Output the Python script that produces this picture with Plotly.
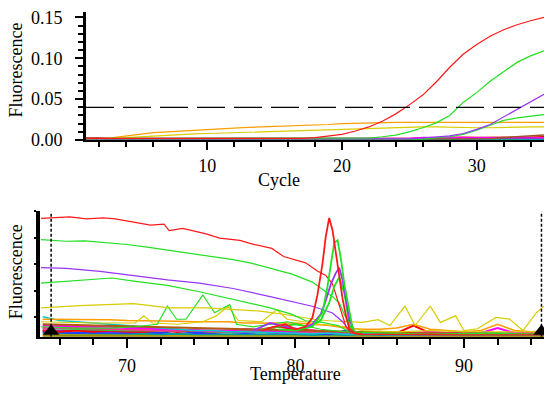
import plotly.graph_objects as go

# ---------------- Amplification (top) ----------------
cycles = [1, 2, 3, 4, 5, 6, 7, 8, 9, 10, 11, 12, 13, 14, 15, 16, 17, 18, 19, 20,
          21, 22, 23, 24, 25, 26, 27, 28, 29, 30, 31, 32, 33, 34, 35]
threshold = 0.040

amp_red = [0.002, 0.002, 0.002, 0.002, 0.002, 0.002, 0.002, 0.002, 0.002, 0.002, 0.002, 0.002,
           0.002, 0.002, 0.002, 0.002, 0.002, 0.003, 0.005, 0.007, 0.011, 0.016, 0.023, 0.032,
           0.043, 0.055, 0.071, 0.089, 0.105, 0.117, 0.127, 0.135, 0.141, 0.146, 0.150]
amp_green = [0.002, 0.002, 0.002, 0.002, 0.002, 0.002, 0.002, 0.002, 0.002, 0.002, 0.002, 0.002,
             0.002, 0.002, 0.002, 0.002, 0.002, 0.002, 0.002, 0.002, 0.002, 0.0025, 0.004, 0.006,
             0.010, 0.015, 0.021, 0.030, 0.046, 0.058, 0.072, 0.084, 0.095, 0.103, 0.109]
amp_purple = [0.0015, 0.0015, 0.0015, 0.0015, 0.0015, 0.0015, 0.0015, 0.0015, 0.0015, 0.0015,
              0.0015, 0.0015, 0.0015, 0.0015, 0.0015, 0.0015, 0.0015, 0.0015, 0.0015, 0.0015,
              0.0015, 0.0015, 0.0015, 0.0015, 0.0015, 0.0025, 0.004, 0.005, 0.008, 0.013,
              0.019, 0.028, 0.037, 0.047, 0.056]
amp_green2 = [0.001, 0.001, 0.001, 0.001, 0.001, 0.001, 0.001, 0.001, 0.001, 0.001, 0.001, 0.001,
              0.001, 0.001, 0.001, 0.001, 0.001, 0.001, 0.001, 0.001, 0.001, 0.001, 0.001, 0.001,
              0.001, 0.001, 0.003, 0.004, 0.007, 0.012, 0.018, 0.024, 0.027, 0.029, 0.031]
amp_orange = [0.0005, 0.001, 0.003, 0.005, 0.007, 0.009, 0.010, 0.011, 0.012, 0.013, 0.014, 0.015,
              0.0155, 0.016, 0.0165, 0.017, 0.018, 0.0185, 0.019, 0.020, 0.0205, 0.021, 0.0215,
              0.0215, 0.0215, 0.0215, 0.0215, 0.0215, 0.0215, 0.0215, 0.0215, 0.0215, 0.0215,
              0.0215, 0.0215]
amp_yellow = [0.0005, 0.001, 0.002, 0.003, 0.004, 0.005, 0.006, 0.007, 0.0075, 0.008, 0.0085,
              0.009, 0.0095, 0.010, 0.0105, 0.011, 0.0115, 0.012, 0.0125, 0.013, 0.014, 0.0145,
              0.015, 0.015, 0.0155, 0.016, 0.016, 0.0155, 0.015, 0.015, 0.015, 0.0155, 0.016,
              0.016, 0.016]
amp_brown = [0.001, 0.001, 0.001, 0.001, 0.001, 0.001, 0.001, 0.001, 0.001, 0.001, 0.001, 0.001,
             0.001, 0.001, 0.001, 0.001, 0.001, 0.001, 0.001, 0.001, 0.001, 0.001, 0.001, 0.001,
             0.001, 0.001, 0.001, 0.001, 0.001, 0.001, 0.0015, 0.003, 0.004, 0.005, 0.006]
amp_magenta = [0.002, 0.002, 0.002, 0.002, 0.002, 0.002, 0.002, 0.002, 0.002, 0.002, 0.002, 0.002,
               0.002, 0.002, 0.002, 0.002, 0.002, 0.002, 0.002, 0.002, 0.002, 0.002, 0.002, 0.002,
               0.002, 0.003, 0.003, 0.003, 0.003, 0.003, 0.003, 0.0025, 0.0025, 0.0025, 0.0025]
amp_cyan = [0.0005, 0.0005, 0.0005, 0.0005, 0.0005, 0.0005, 0.0005, 0.0005, 0.0005, 0.0005,
            0.0005, 0.0005, 0.0005, 0.0005, 0.0005, 0.0005, 0.0005, 0.0005, 0.0005, 0.0005,
            0.0005, 0.0005, 0.0005, 0.0005, 0.0005, 0.001, 0.001, 0.001, 0.0005, 0.001, 0.001,
            0.0015, 0.001, 0.001, 0.001]
amp_redbase = [0.0025, 0.0025, 0.0015, 0.0015, 0.0015, 0.0015, 0.0015, 0.0015, 0.0015, 0.0015,
               0.0015, 0.0015, 0.0015, 0.0015, 0.0015, 0.0015, 0.0015, 0.0015, 0.0015, 0.0015,
               0.0015, 0.0015, 0.0015, 0.002, 0.002, 0.0025, 0.003, 0.003, 0.0035, 0.003, 0.003,
               0.0035, 0.003, 0.0035, 0.004]
amp_olive = [0.0002, 0.0002, 0.0002, 0.0002, 0.0002, 0.0002, 0.0002, 0.0002, 0.0002, 0.0002,
             0.0002, 0.0002, 0.0002, 0.0002, 0.0002, 0.0002, 0.0002, 0.0002, 0.0002, 0.0002,
             0.0002, 0.0002, 0.0002, 0.0002, 0.0002, 0.0005, 0.0005, 0.0005, 0.0005, 0.0005,
             0.0005, 0.0005, 0.0005, 0.0005, 0.0005]
amp_teal = [0.001, 0.001, 0.001, 0.001, 0.001, 0.001, 0.001, 0.001, 0.001, 0.001, 0.001, 0.001,
            0.001, 0.001, 0.001, 0.001, 0.001, 0.001, 0.001, 0.001, 0.001, 0.001, 0.001, 0.001,
            0.001, 0.0015, 0.0015, 0.0015, 0.0015, 0.002, 0.002, 0.002, 0.002, 0.0015, 0.0015]

# ---------------- Melt (bottom) ----------------
melt_limits = [65.5, 94.6]

raw_red_t = [64.9, 66.0, 66.6, 67.6, 68.6, 69.3, 70.0, 70.7, 71.4, 72.2, 72.5, 73.3, 74.0, 74.7,
             75.5, 76.7, 77.3, 78.1, 78.6, 79.3, 80.0, 80.6, 81.3, 81.8, 82.2, 82.6, 83.0, 83.3,
             84.0, 86.0, 88.0, 90.0, 92.0, 94.7]
raw_red_v = [0.944, 0.950, 0.956, 0.941, 0.949, 0.940, 0.923, 0.905, 0.890, 0.898, 0.846, 0.864,
             0.845, 0.821, 0.787, 0.769, 0.745, 0.718, 0.705, 0.640, 0.615, 0.590, 0.525, 0.490,
             0.420, 0.250, 0.080, 0.030, 0.020, 0.020, 0.015, 0.015, 0.015, 0.015]
peak_red_t = [78.0, 78.7, 79.4, 80.0, 80.6, 81.0, 81.3, 81.6, 81.8, 82.0, 82.2, 82.5, 82.8, 83.0,
              83.2, 83.5, 84.0]
peak_red_v = [0.05, 0.08, 0.10, 0.06, 0.08, 0.15, 0.33, 0.58, 0.80, 0.948, 0.85, 0.56, 0.30,
              0.167, 0.064, 0.03, 0.02]

raw_green_t = [64.9, 66.4, 67.5, 68.4, 70.0, 71.2, 72.4, 73.4, 74.3, 75.3, 76.3, 77.3, 78.5,
               79.8, 81.0, 81.4, 81.8, 82.2, 82.6, 83.0, 83.3, 84.0, 87.0, 90.0, 94.7]
raw_green_v = [0.775, 0.762, 0.765, 0.756, 0.736, 0.715, 0.692, 0.672, 0.654, 0.635, 0.615, 0.590,
               0.546, 0.500, 0.436, 0.400, 0.360, 0.320, 0.270, 0.150, 0.040, 0.020, 0.018,
               0.015, 0.015]
peak_green_t = [79.0, 80.0, 81.0, 81.6, 81.9, 82.1, 82.3, 82.5, 82.7, 82.9, 83.2, 83.4, 83.7]
peak_green_v = [0.06, 0.05, 0.08, 0.19, 0.40, 0.56, 0.75, 0.77, 0.62, 0.42, 0.19, 0.06, 0.02]

raw_purple_t = [64.9, 66.4, 68.4, 70.4, 72.4, 74.3, 76.3, 78.5, 79.8, 81.0, 81.6, 82.2, 82.8,
                83.2, 83.6, 87.0, 94.7]
raw_purple_v = [0.551, 0.546, 0.521, 0.487, 0.454, 0.428, 0.385, 0.321, 0.282, 0.244, 0.218,
                0.190, 0.120, 0.050, 0.020, 0.015, 0.015]
peak_purple_t = [77.5, 78.5, 79.5, 80.3, 81.0, 81.5, 81.8, 82.1, 82.4, 82.6, 82.8, 83.0, 83.2,
                 83.5]
peak_purple_v = [0.05, 0.11, 0.08, 0.06, 0.10, 0.18, 0.29, 0.42, 0.51, 0.55, 0.45, 0.28, 0.14,
                 0.04]

raw_green2_t = [64.9, 66.4, 67.9, 69.1, 70.4, 72.4, 74.3, 76.3, 78.5, 79.8, 80.6, 81.6, 82.5,
                83.2, 83.6, 88.0, 94.7]
raw_green2_v = [0.428, 0.444, 0.462, 0.469, 0.444, 0.410, 0.359, 0.300, 0.231, 0.179, 0.128,
                0.115, 0.090, 0.040, 0.020, 0.015, 0.015]
peak_green2_t = [78.0, 79.0, 80.0, 80.8, 81.5, 82.0, 82.3, 82.6, 82.9, 83.2, 83.5]
peak_green2_v = [0.06, 0.08, 0.10, 0.08, 0.13, 0.27, 0.40, 0.475, 0.35, 0.10, 0.03]

yellow_t = [64.9, 67.2, 70.4, 72.5, 74.7, 76.1, 77.9, 79.3, 81.1, 82.0, 83.0, 84.0, 84.9, 85.6,
            86.5, 87.1, 88.0, 88.6, 89.5, 90.0, 90.8, 91.9, 92.7, 93.5, 94.3, 94.75]
yellow_v = [0.230, 0.248, 0.264, 0.230, 0.230, 0.218, 0.205, 0.180, 0.140, 0.128, 0.120, 0.115,
            0.136, 0.090, 0.244, 0.090, 0.244, 0.115, 0.167, 0.050, 0.064, 0.154, 0.141, 0.050,
            0.192, 0.244]

spiky_green_t = [64.9, 67.0, 69.0, 70.5, 71.8, 72.4, 72.95, 73.5, 74.5, 75.2, 76.1, 76.5, 77.5,
                 78.5, 79.5, 80.5, 81.5, 83.0, 85.0, 88.0, 91.0, 94.7]
spiky_green_v = [0.08, 0.07, 0.07, 0.08, 0.10, 0.244, 0.14, 0.14, 0.333, 0.192, 0.256, 0.10,
                 0.08, 0.10, 0.12, 0.09, 0.06, 0.04, 0.03, 0.02, 0.03, 0.02]

spiky_yellow_t = [64.9, 68.0, 70.5, 71.0, 71.5, 73.0, 74.5, 75.3, 76.0, 76.6, 78.0, 78.9, 79.5,
                  80.5, 81.5, 83.0, 84.0, 86.0, 88.0, 91.0, 94.7]
spiky_yellow_v = [0.12, 0.11, 0.11, 0.167, 0.11, 0.10, 0.12, 0.167, 0.244, 0.13, 0.12, 0.218,
                  0.14, 0.12, 0.10, 0.08, 0.05, 0.04, 0.05, 0.04, 0.04]

noise_t = [65, 66, 67, 68, 69, 70, 71, 72, 73, 74, 75, 76, 77, 78, 79, 80, 81, 82, 83, 84, 85,
           86, 87, 88, 89, 90, 91, 92, 93, 94, 95]
noise_red = [0.05, 0.04, 0.05, 0.04, 0.05, 0.04, 0.04, 0.05, 0.04, 0.05, 0.04, 0.04, 0.05, 0.06,
             0.08, 0.06, 0.05, 0.04, 0.03, 0.03, 0.02, 0.03, 0.09, 0.03, 0.02, 0.02, 0.03, 0.02,
             0.02, 0.02, 0.02]
noise_magenta = [0.09, 0.09, 0.085, 0.08, 0.08, 0.07, 0.07, 0.06, 0.06, 0.05, 0.05, 0.05, 0.06,
                 0.05, 0.04, 0.04, 0.05, 0.04, 0.03, 0.03, 0.04, 0.03, 0.03, 0.04, 0.03, 0.03,
                 0.03, 0.07, 0.03, 0.03, 0.03]
noise_blue = [0.04, 0.035, 0.03, 0.035, 0.03, 0.03, 0.04, 0.03, 0.05, 0.03, 0.03, 0.04, 0.03,
              0.04, 0.03, 0.03, 0.03, 0.02, 0.05, 0.03, 0.02, 0.03, 0.02, 0.02, 0.03, 0.02, 0.02,
              0.03, 0.02, 0.02, 0.02]
noise_cyan = [0.16, 0.13, 0.12, 0.11, 0.10, 0.09, 0.08, 0.07, 0.06, 0.05, 0.05, 0.04, 0.04, 0.035,
              0.03, 0.03, 0.025, 0.03, 0.02, 0.025, 0.02, 0.03, 0.02, 0.02, 0.025, 0.02, 0.02,
              0.02, 0.02, 0.015, 0.02]
noise_green = [0.07, 0.065, 0.06, 0.06, 0.055, 0.05, 0.05, 0.05, 0.045, 0.05, 0.04, 0.04, 0.05,
               0.04, 0.04, 0.035, 0.03, 0.04, 0.03, 0.03, 0.025, 0.03, 0.025, 0.03, 0.025, 0.02,
               0.02, 0.03, 0.02, 0.03, 0.02]
noise_orange = [0.14, 0.14, 0.135, 0.14, 0.135, 0.13, 0.13, 0.13, 0.125, 0.12, 0.12, 0.12, 0.11,
                0.11, 0.115, 0.11, 0.10, 0.09, 0.07, 0.06, 0.06, 0.07, 0.10, 0.06, 0.05, 0.04,
                0.05, 0.10, 0.05, 0.04, 0.05]
noise_brown = [0.10, 0.10, 0.095, 0.09, 0.09, 0.085, 0.08, 0.08, 0.075, 0.07, 0.07, 0.065, 0.06,
               0.06, 0.055, 0.05, 0.05, 0.045, 0.04, 0.04, 0.035, 0.035, 0.03, 0.03, 0.03, 0.025,
               0.025, 0.025, 0.02, 0.02, 0.02]
noise_olive = [0.02, 0.02, 0.015, 0.02, 0.015, 0.015, 0.02, 0.015, 0.015, 0.01, 0.015, 0.01,
               0.015, 0.01, 0.01, 0.015, 0.01, 0.01, 0.01, 0.01, 0.01, 0.01, 0.01, 0.01, 0.01,
               0.01, 0.01, 0.01, 0.01, 0.01, 0.01]
noise_purple = [0.05, 0.05, 0.045, 0.05, 0.04, 0.045, 0.04, 0.06, 0.04, 0.05, 0.04, 0.04, 0.06,
                0.05, 0.03, 0.04, 0.03, 0.03, 0.04, 0.03, 0.03, 0.03, 0.02, 0.03, 0.02, 0.02,
                0.03, 0.02, 0.03, 0.02, 0.02]
noise_teal = [0.03, 0.03, 0.03, 0.025, 0.03, 0.025, 0.025, 0.02, 0.025, 0.02, 0.02, 0.025, 0.02,
              0.02, 0.02, 0.02, 0.015, 0.02, 0.015, 0.02, 0.015, 0.015, 0.02, 0.015, 0.015,
              0.015, 0.015, 0.02, 0.015, 0.015, 0.015]
noise_pink = [0.07, 0.075, 0.07, 0.065, 0.06, 0.06, 0.055, 0.05, 0.05, 0.055, 0.045, 0.04, 0.04,
              0.04, 0.035, 0.035, 0.03, 0.03, 0.03, 0.025, 0.025, 0.025, 0.025, 0.02, 0.02, 0.02,
              0.02, 0.02, 0.02, 0.02, 0.02]
noise_dark = [0.006, 0.006, 0.005, 0.006, 0.005, 0.005, 0.006, 0.005, 0.005, 0.005, 0.005, 0.005,
              0.005, 0.005, 0.005, 0.005, 0.005, 0.005, 0.005, 0.005, 0.005, 0.005, 0.005, 0.005,
              0.005, 0.005, 0.005, 0.005, 0.005, 0.005, 0.005]

RED, GREEN, PURPLE = "#ff1a1a", "#22e022", "#9933ff"
ORANGE, YELLOW = "#ff9d00", "#d9cc00"

fig = go.Figure()

def add(x, y, color, axis, width=1.2):
    xa, ya = ("x", "y") if axis == 1 else ("x2", "y2")
    fig.add_trace(go.Scatter(x=x, y=y, mode="lines", line=dict(color=color, width=width),
                             xaxis=xa, yaxis=ya, showlegend=False, hoverinfo="skip"))

# top panel
add(cycles, amp_olive, "#8a7a00", 1, 1.5)
add(cycles, amp_cyan, "#00c8c8", 1, 1.5)
add(cycles, amp_teal, "#008080", 1, 1.5)
add(cycles, amp_redbase, "#e00000", 1, 1.5)
add(cycles, amp_magenta, "#ff00ff", 1, 1.5)
add(cycles, amp_brown, "#a0522d", 1, 1.5)
add(cycles, amp_orange, ORANGE, 1)
add(cycles, amp_yellow, YELLOW, 1)
add(cycles, amp_green2, GREEN, 1)
add(cycles, amp_purple, PURPLE, 1)
add(cycles, amp_green, GREEN, 1)
add(cycles, amp_red, RED, 1)
fig.add_trace(go.Scatter(x=[cycles[0], cycles[-1]], y=[threshold, threshold], mode="lines",
                         line=dict(color="black", width=1.3, dash="28px,9px"),
                         xaxis="x", yaxis="y", showlegend=False, hoverinfo="skip"))

# bottom panel
add(noise_t, noise_dark, "#8a7a00", 2, 3)
add(noise_t, noise_olive, "#b0a000", 2, 2)
add(noise_t, noise_teal, "#009999", 2, 2)
add(noise_t, noise_blue, "#2040ff", 2, 2)
add(noise_t, noise_purple, "#8a2be2", 2, 2)
add(noise_t, noise_red, "#ff0000", 2, 2)
add(noise_t, noise_green, "#33cc33", 2, 2)
add(noise_t, noise_pink, "#ff3399", 2, 2)
add(noise_t, noise_magenta, "#ff00ff", 2, 2)
add(noise_t, noise_cyan, "#00cccc", 2, 1.5)
add(noise_t, noise_brown, "#b05a10", 2, 2)
add(noise_t, noise_orange, ORANGE, 2, 1.5)
add(spiky_yellow_t, spiky_yellow_v, YELLOW, 2)
add(spiky_green_t, spiky_green_v, GREEN, 2)
add(yellow_t, yellow_v, YELLOW, 2)
add(raw_green2_t, raw_green2_v, GREEN, 2)
add(raw_purple_t, raw_purple_v, PURPLE, 2)
add(raw_green_t, raw_green_v, GREEN, 2)
add(raw_red_t, raw_red_v, RED, 2)
add(peak_green2_t, peak_green2_v, GREEN, 2, 1.8)
add(peak_purple_t, peak_purple_v, PURPLE, 2, 1.8)
add(peak_green_t, peak_green_v, GREEN, 2, 1.8)
add(peak_red_t, peak_red_v, RED, 2, 1.8)

for lim in melt_limits:
    fig.add_trace(go.Scatter(x=[lim, lim], y=[0, 1], mode="lines",
                             line=dict(color="black", width=1.5, dash="3px,2px"),
                             xaxis="x2", yaxis="y2", showlegend=False, hoverinfo="skip"))
fig.add_trace(go.Scatter(x=melt_limits, y=[0.045, 0.045], mode="markers",
                         marker=dict(symbol="triangle-up", size=14, color="black"),
                         xaxis="x2", yaxis="y2", showlegend=False, hoverinfo="skip",
                         cliponaxis=False))

W, H = 544, 396
font = dict(family="Liberation Serif", size=18, color="black")

common_axis = dict(showgrid=False, zeroline=False, linecolor="black", ticks="outside",
                   tickcolor="black", showline=True, tickfont=font)

fig.update_layout(
    width=W, height=H, margin=dict(l=0, r=0, t=0, b=0),
    paper_bgcolor="white", plot_bgcolor="white", font=font,
    xaxis=dict(common_axis, domain=[86 / W, 1], range=[1, 35], anchor="y",
               tick0=0, dtick=10, ticklen=8, tickwidth=2, linewidth=2,
               minor=dict(dtick=2, tick0=0, ticklen=5, tickwidth=2, ticks="outside",
                          tickcolor="black"), ticklabelstandoff=0),
    yaxis=dict(common_axis, domain=[1 - 141 / H, 1 - 8 / H], range=[0, 0.157], anchor="x",
               tick0=0, dtick=0.05, tickformat=".2f", ticklen=8, tickwidth=2, linewidth=3,
               minor=dict(dtick=0.01, tick0=0, ticklen=5, tickwidth=2, ticks="outside",
                          tickcolor="black"), ticklabelstandoff=9),
    xaxis2=dict(common_axis, domain=[40 / W, 1], range=[64.84, 94.75], anchor="y2",
                tick0=0, dtick=10, ticklen=9, tickwidth=2, linewidth=2,
                minor=dict(dtick=2, tick0=0, ticklen=6, tickwidth=2, ticks="outside",
                           tickcolor="black"), ticklabelstandoff=3),
    yaxis2=dict(common_axis, domain=[1 - 345 / H, 1 - 215 / H], range=[0, 1.0], anchor="x2",
                tick0=0.154, dtick=0.2115, ticklen=2, tickwidth=2, linewidth=4,
                showticklabels=False),
    annotations=[
        dict(text="Fluorescence", x=16 / W, y=1 - 69 / H, xref="paper", yref="paper",
             textangle=-90, showarrow=False, font=font, xanchor="center", yanchor="middle"),
        dict(text="Fluorescence", x=16 / W, y=1 - 278 / H, xref="paper", yref="paper",
             textangle=-90, showarrow=False, font=font, xanchor="center", yanchor="middle"),
        dict(text="Cycle", x=279 / W, y=1 - 182 / H, xref="paper", yref="paper",
             showarrow=False, font=font, xanchor="center", yanchor="middle"),
        dict(text="Temperature", x=295 / W, y=1 / H, xref="paper", yref="paper",
             showarrow=False, font=font, xanchor="center", yanchor="bottom", borderpad=0),
    ],
)

fig.write_html("out.html", config={"displayModeBar": False},
               post_script="document.body.style.margin='0';"
               "document.body.style.overflow='hidden';")
